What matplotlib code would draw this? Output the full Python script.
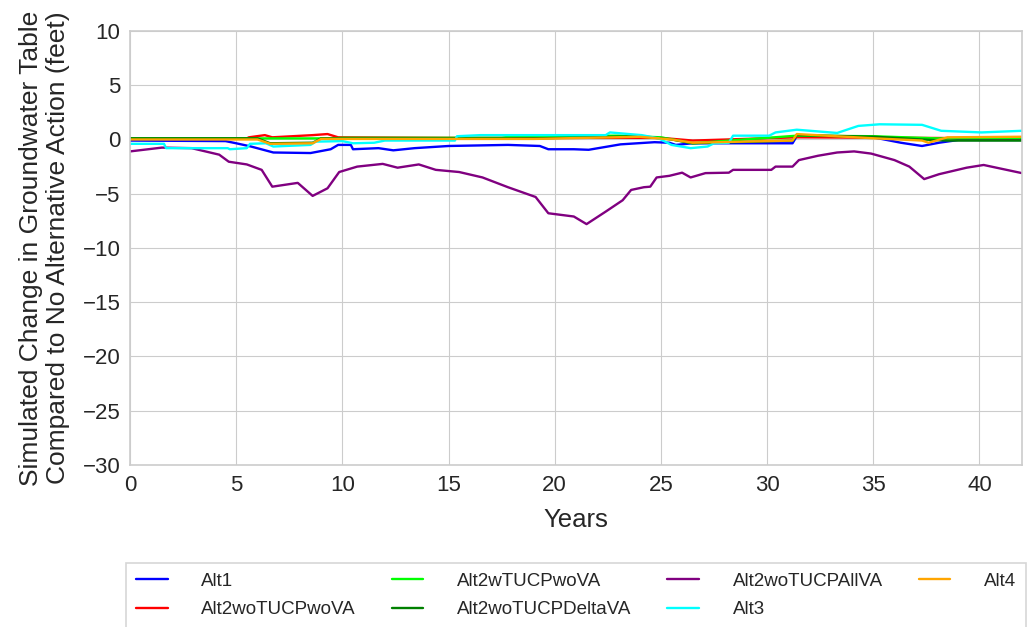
import numpy as np
import matplotlib.pyplot as plt

# Year/value knots for each alternative (change vs. no-action, feet)
alt1_years = [0, 4.5, 5.0, 5.7, 6.75, 8.5, 9.45, 9.8, 10.4, 10.5, 11.7, 12.4, 13.4, 15.0,
              17.8, 19.3, 19.7, 20.9, 21.6, 23.1, 24.7, 25.4, 25.7, 26.5, 31.2, 31.4,
              35.0, 36.3, 37.3, 38.1, 39.0, 42]
alt1_vals = [-0.1, -0.15, -0.35, -0.65, -1.2, -1.25, -0.9, -0.5, -0.5, -0.9, -0.8, -1.0, -0.8,
             -0.6, -0.5, -0.6, -0.9, -0.9, -0.95, -0.45, -0.25, -0.3, -0.5, -0.35, -0.35, 0.3,
             0.2, -0.3, -0.6, -0.3, -0.05, -0.05]

alt2wo_years = [0, 5.5, 5.6, 6.35, 6.7, 8.6, 9.3, 9.8, 15.0, 25.0, 26.5, 31.4, 42]
alt2wo_vals = [0.1, 0.1, 0.2, 0.4, 0.2, 0.4, 0.5, 0.2, 0.15, 0.15, -0.1, 0.2, 0.1]

alt2w_years = [0, 9.5, 10.0, 17.5, 18.0, 23.0, 25.0, 26.5, 31.4, 35.0, 38.0, 42]
alt2w_vals = [0.1, 0.1, 0.15, 0.15, 0.3, 0.35, 0.2, -0.35, 0.35, 0.3, 0.1, 0.15]

alt2delta_years = [0, 6.0, 6.6, 8.6, 9.0, 19.0, 24.0, 25.5, 26.5, 31.2, 31.4, 35.1,
                   37.3, 38.5, 42]
alt2delta_vals = [0.1, 0.1, -0.35, -0.3, 0.1, 0.1, 0.3, 0.0, -0.35, -0.1, 0.4, 0.25,
                  0.0, -0.1, -0.1]

alt2all_years = [0, 1.5, 2.9, 4.2, 4.65, 5.5, 6.2, 6.7, 7.9, 8.6, 9.3, 9.85, 10.7, 11.9,
                 12.6, 13.6, 14.4, 15.5, 16.6, 17.8, 19.1, 19.7, 20.9, 21.5, 22.4, 23.2,
                 23.6, 24.2, 24.5, 24.8, 25.4, 26.0, 26.4, 27.1, 28.2, 28.4, 30.2, 30.4,
                 31.2, 31.5, 32.4, 33.3, 34.1, 34.9, 36.0, 36.7, 37.4, 38.1, 39.4, 40.2, 42]
alt2all_vals = [-1.1, -0.75, -0.8, -1.4, -2.05, -2.3, -2.8, -4.35, -4.0, -5.2, -4.5, -3.0,
                -2.5, -2.25, -2.6, -2.3, -2.8, -3.0, -3.5, -4.4, -5.3, -6.8, -7.1, -7.8,
                -6.65, -5.6, -4.65, -4.4, -4.35, -3.5, -3.35, -3.06, -3.5, -3.1, -3.06,
                -2.8, -2.8, -2.5, -2.5, -1.9, -1.5, -1.2, -1.1, -1.3, -1.9, -2.5, -3.65,
                -3.2, -2.6, -2.35, -3.1]

alt3_years = [0, 1.6, 1.7, 4.6, 4.7, 5.5, 5.65, 6.4, 6.75, 8.5, 8.75, 10.0, 10.5, 11.5,
              12.0, 15.3, 15.4, 16.5, 19.6, 22.4, 22.6, 24.1, 24.9, 25.5, 26.4, 27.2,
              27.5, 28.2, 28.4, 30.1, 30.4, 31.4, 33.3, 34.3, 35.3, 37.3, 38.2, 40.1, 42]
alt3_vals = [-0.4, -0.4, -0.8, -0.8, -0.9, -0.8, -0.4, -0.35, -0.65, -0.5, -0.2, -0.15,
             -0.35, -0.3, -0.1, -0.1, 0.3, 0.4, 0.4, 0.4, 0.65, 0.4, 0.1, -0.5, -0.8,
             -0.65, -0.35, -0.3, 0.35, 0.35, 0.65, 0.9, 0.6, 1.25, 1.4, 1.35, 0.8, 0.65,
             0.8]

alt4_years = [0, 6.0, 6.6, 8.6, 9.0, 19.0, 24.0, 25.5, 26.5, 31.2, 31.4, 35.1, 37.3,
              37.6, 38.5, 42]
alt4_vals = [0.0, 0.0, -0.4, -0.35, 0.05, 0.05, 0.25, 0.0, -0.3, -0.1, 0.5, 0.1, -0.1,
             -0.3, 0.2, 0.25]

series = [
    ('Alt1', alt1_years, alt1_vals, 'blue'),
    ('Alt2woTUCPwoVA', alt2wo_years, alt2wo_vals, 'red'),
    ('Alt2wTUCPwoVA', alt2w_years, alt2w_vals, 'lime'),
    ('Alt2woTUCPDeltaVA', alt2delta_years, alt2delta_vals, 'green'),
    ('Alt2woTUCPAllVA', alt2all_years, alt2all_vals, 'purple'),
    ('Alt3', alt3_years, alt3_vals, 'cyan'),
    ('Alt4', alt4_years, alt4_vals, 'orange'),
]

plt.style.use('seaborn-v0_8-whitegrid')
plt.rcParams['font.family'] = ['Liberation Sans', 'DejaVu Sans']

fig = plt.figure(figsize=(10.27, 6.27), dpi=100)
ax = fig.add_axes([0.1266, 0.2584, 0.8684, 0.6922])

for label, yrs, vals, color in series:
    ax.plot(yrs, vals, color=color, lw=1.7, label=label)

ax.set_xlim(0, 42)
ax.set_ylim(-30, 10)
ax.set_xticks(np.arange(0, 41, 5))
ax.set_yticks(np.arange(-30, 11, 5))
ax.tick_params(labelsize=16, colors='#262626', pad=7)
ax.set_xlabel('Years', fontsize=18.5, color='#262626', labelpad=9)
ax.set_ylabel('Simulated Change in Groundwater Table\nCompared to No Alternative Action (feet)',
              fontsize=19, color='#262626', labelpad=9, linespacing=1.15)
for s in ax.spines.values():
    s.set_visible(True)
    s.set_color('#cccccc')
    s.set_linewidth(1.2)

leg = ax.legend(loc='upper center', bbox_to_anchor=(0.5, -0.205), ncol=4, fontsize=13.5,
                frameon=True, fancybox=False, handlelength=1.7, handletextpad=1.8,
                columnspacing=1.9, borderpad=0.5, labelspacing=0.6)
leg.get_frame().set_edgecolor('#cccccc')
leg.get_frame().set_linewidth(1.2)

fig.savefig('out.png', dpi=100)
